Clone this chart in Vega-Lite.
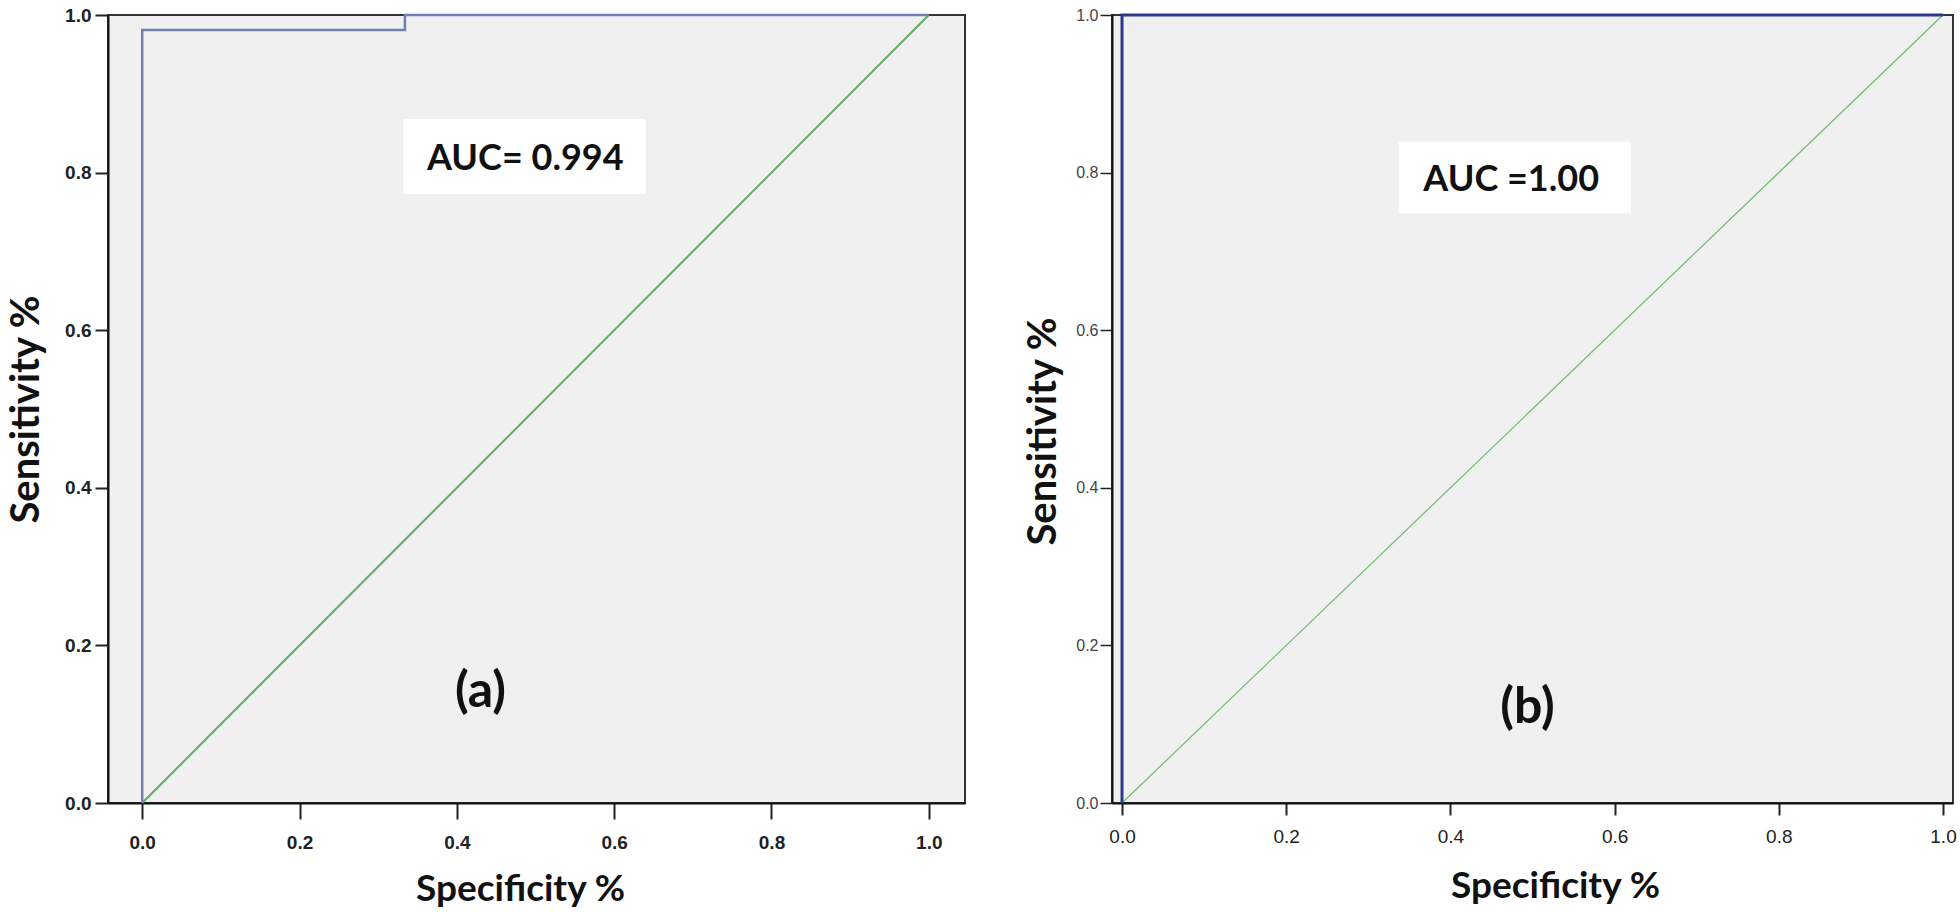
{
  "$schema": "https://vega.github.io/schema/vega-lite/v6.json",
  "background": "white",
  "padding": 5,
  "spacing": 56,
  "datasets": {
    "diag": [{"fpr": 0, "tpr": 0, "o": 1}, {"fpr": 1, "tpr": 1, "o": 2}],
    "rocA": [
      {"fpr": 0, "tpr": 0, "o": 1},
      {"fpr": 0, "tpr": 0.981, "o": 2},
      {"fpr": 0.334, "tpr": 0.981, "o": 3},
      {"fpr": 0.334, "tpr": 1, "o": 4},
      {"fpr": 1, "tpr": 1, "o": 5}
    ],
    "rocB": [
      {"fpr": 0, "tpr": 0, "o": 1},
      {"fpr": 0, "tpr": 1, "o": 2},
      {"fpr": 1, "tpr": 1, "o": 3}
    ],
    "boxA": [{"x1": 0.332, "x2": 0.64, "y1": 0.773, "y2": 0.868, "label": "AUC= 0.994", "xc": 0.487, "yc": 0.817}],
    "boxB": [{"x1": 0.337, "x2": 0.62, "y1": 0.748, "y2": 0.839, "label": "AUC =1.00", "xc": 0.474, "yc": 0.791}],
    "tagA": [{"x": 0.43, "y": 0.141, "label": "(a)"}],
    "tagB": [{"x": 0.494, "y": 0.12, "label": "(b)"}]
  },
  "config": {
    "view": {"stroke": "#333333", "strokeWidth": 2, "fill": "#f0f0f0"},
    "axis": {"grid": false, "domainColor": "#111111", "domainWidth": 2, "tickColor": "#222222", "tickWidth": 2, "labelColor": "#222222", "titleColor": "#111111", "titleFont": "Lato", "titleFontWeight": "bold", "titleFontSize": 37, "labelFont": "Liberation Sans"}
  },
  "hconcat": [
    {
      "width": 857,
      "height": 788,
      "layer": [
        {
          "data": {"name": "boxA"},
          "mark": {"type": "rect", "fill": "white"},
          "encoding": {
            "x": {"field": "x1", "type": "quantitative", "scale": {"domain": [-0.0435, 1.046], "nice": false, "zero": false}, "axis": {"values": [0, 0.2, 0.4, 0.6, 0.8, 1.0], "format": ".1f", "labelFontSize": 19, "labelFontWeight": "bold", "tickSize": 16, "labelPadding": 14, "title": "Specificity %", "titlePadding": 19, "titleX": 412}},
            "x2": {"field": "x2"},
            "y": {"field": "y1", "type": "quantitative", "scale": {"domain": [0, 1], "nice": false}, "axis": {"values": [0, 0.2, 0.4, 0.6, 0.8, 1.0], "format": ".1f", "labelFontSize": 19, "labelFontWeight": "bold", "tickSize": 13, "labelPadding": 4, "title": "Sensitivity %", "titleFontSize": 40, "titlePadding": 18}},
            "y2": {"field": "y2"}
          }
        },
        {
          "data": {"name": "diag"},
          "mark": {"type": "line", "color": "#5fae5f", "strokeWidth": 2},
          "encoding": {
            "x": {"field": "fpr", "type": "quantitative"},
            "y": {"field": "tpr", "type": "quantitative"},
            "order": {"field": "o"}
          }
        },
        {
          "data": {"name": "rocA"},
          "mark": {"type": "line", "color": "#6f7fae", "strokeWidth": 2.5},
          "encoding": {
            "x": {"field": "fpr", "type": "quantitative"},
            "y": {"field": "tpr", "type": "quantitative"},
            "order": {"field": "o"}
          }
        },
        {
          "data": {"name": "boxA"},
          "mark": {"type": "text", "font": "Lato", "fontWeight": "bold", "fontSize": 36, "color": "#111111"},
          "encoding": {
            "x": {"field": "xc", "type": "quantitative"},
            "y": {"field": "yc", "type": "quantitative"},
            "text": {"field": "label"}
          }
        },
        {
          "data": {"name": "tagA"},
          "mark": {"type": "text", "font": "Lato", "fontWeight": "bold", "fontSize": 50, "color": "#111111"},
          "encoding": {
            "x": {"field": "x", "type": "quantitative"},
            "y": {"field": "y", "type": "quantitative"},
            "text": {"field": "label"}
          }
        }
      ]
    },
    {
      "width": 841,
      "height": 788,
      "layer": [
        {
          "data": {"name": "boxB"},
          "mark": {"type": "rect", "fill": "white"},
          "encoding": {
            "x": {"field": "x1", "type": "quantitative", "scale": {"domain": [-0.0122, 1.0122], "nice": false, "zero": false}, "axis": {"values": [0, 0.2, 0.4, 0.6, 0.8, 1.0], "format": ".1f", "labelFontSize": 19, "tickSize": 12, "labelPadding": 12, "title": "Specificity %", "titlePadding": 22, "titleX": 443}},
            "x2": {"field": "x2"},
            "y": {"field": "y1", "type": "quantitative", "scale": {"domain": [0, 1], "nice": false}, "axis": {"values": [0, 0.2, 0.4, 0.6, 0.8, 1.0], "format": ".1f", "labelFontSize": 16, "labelColor": "#444444", "tickSize": 12, "tickWidth": 1.5, "labelPadding": 2, "title": "Sensitivity %", "titleFontSize": 40, "titlePadding": 12, "titleY": 416}},
            "y2": {"field": "y2"}
          }
        },
        {
          "data": {"name": "diag"},
          "mark": {"type": "line", "color": "#6dbb6d", "strokeWidth": 1.2},
          "encoding": {
            "x": {"field": "fpr", "type": "quantitative"},
            "y": {"field": "tpr", "type": "quantitative"},
            "order": {"field": "o"}
          }
        },
        {
          "data": {"name": "rocB"},
          "mark": {"type": "line", "color": "#2b3a8a", "strokeWidth": 3},
          "encoding": {
            "x": {"field": "fpr", "type": "quantitative"},
            "y": {"field": "tpr", "type": "quantitative"},
            "order": {"field": "o"}
          }
        },
        {
          "data": {"name": "boxB"},
          "mark": {"type": "text", "font": "Lato", "fontWeight": "bold", "fontSize": 36, "color": "#111111"},
          "encoding": {
            "x": {"field": "xc", "type": "quantitative"},
            "y": {"field": "yc", "type": "quantitative"},
            "text": {"field": "label"}
          }
        },
        {
          "data": {"name": "tagB"},
          "mark": {"type": "text", "font": "Lato", "fontWeight": "bold", "fontSize": 50, "color": "#111111"},
          "encoding": {
            "x": {"field": "x", "type": "quantitative"},
            "y": {"field": "y", "type": "quantitative"},
            "text": {"field": "label"}
          }
        }
      ]
    }
  ]
}
